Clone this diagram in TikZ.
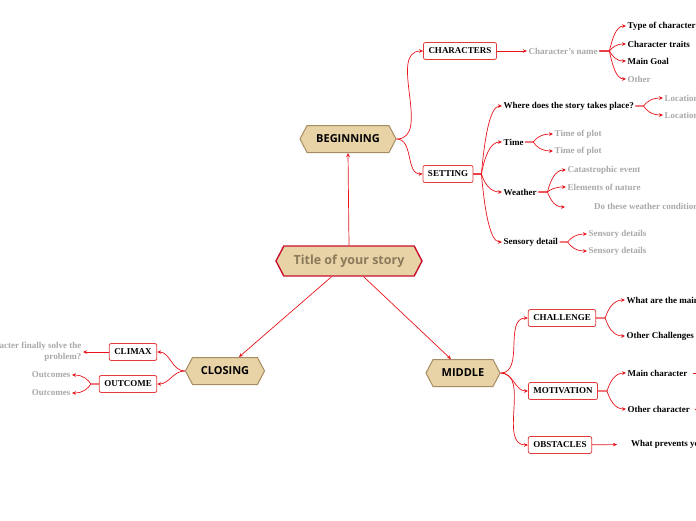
\documentclass[tikz,border=0pt]{standalone}
\usepackage{fontspec}
\setmainfont{Liberation Serif}
\newfontfamily\hexfont{Open Sans}
\usetikzlibrary{arrows.meta, positioning, shapes.symbols, calc}

\definecolor{linkred}{HTML}{E8141C}
\definecolor{boxred}{HTML}{E23B3B}
\definecolor{hexfill}{HTML}{E8D3A6}
\definecolor{hexline}{HTML}{A58C63}
\definecolor{titlered}{HTML}{C8102E}
\definecolor{titletext}{HTML}{8A7A5C}
\definecolor{softgray}{HTML}{A8A8A8}

\begin{document}
\begin{tikzpicture}[x=1pt, y=-1pt,
        hexa/.style={signal, signal to=east and west, signal pointer angle=125,
            draw=hexline, fill=hexfill, line width=1pt, minimum height=27pt,
            font=\hexfont\bfseries\fontsize{11}{13}\selectfont},
        topic/.style={hexa, draw=titlered, line width=1.4pt, text=titletext,
            minimum width=146pt, minimum height=30pt,
            font=\hexfont\bfseries\fontsize{12.5}{15}\selectfont},
        box/.style={rectangle, rounded corners=2pt, draw=boxred, fill=white,
            line width=0.8pt, minimum height=17pt, inner xsep=5pt,
            font=\bfseries\fontsize{9}{11}\selectfont},
        item/.style={anchor=west, inner sep=1.5pt, font=\bfseries\fontsize{9}{10.5}\selectfont},
        hint/.style={item, text=softgray},
        link/.style={draw=linkred, line width=0.7pt, -{Stealth[length=4pt, width=3.6pt]}},
        fork/.style={to path={-- ++(#1,0) coordinate (f)
            .. controls ([xshift=3pt]$(f)!0.5!(f |- \tikztotarget)$)
            and ($(f |- \tikztotarget)!0.4!(\tikztotarget)$) .. (\tikztotarget)}},
        lfork/.style={to path={-- ++(-#1,0) coordinate (f)
            .. controls ([xshift=-3pt]$(f)!0.5!(f |- \tikztotarget)$)
            and ($(f |- \tikztotarget)!0.4!(\tikztotarget)$) .. (\tikztotarget)}}
    ]
        \useasboundingbox (0,0) rectangle (696,520);
        \clip (0,0) rectangle (696,520);

        % main topics
        \node[topic] (title) at (349,261) {Title of your story};
        \node[hexa, minimum width=96pt] (begin) at (348,139) {BEGINNING};
        \node[hexa, minimum width=79pt] (closing) at (225,371) {CLOSING};
        \node[hexa, minimum width=74pt] (middle) at (463,373) {MIDDLE};

        \draw[link] (title.north) -- (begin.south);
        \draw[link] (title.222) -- (closing.45);
        \draw[link] (title.-47) -- (middle.131);

        % beginning
        \node[box] (chars) at (460,51) {CHARACTERS};
        \node[box] (setting) at (448,174) {SETTING};
        \node[hint, right=30pt of chars] (chname) {Character's name};
        \node[item] (ctype) at (626,26) {Type of character};
        \node[item] (traits) at (626,44) {Character traits};
        \node[item] (goal) at (626,61) {Main Goal};
        \node[hint] (other) at (626,79) {Other};

        \node[item] (where) at (502,106) {Where does the story takes place?};
        \node[hint] (loc1) at (663,98) {Location};
        \node[hint] (loc2) at (663,115) {Location};
        \node[item] (time) at (502,142) {Time};
        \node[hint] (plot1) at (553,134) {Time of plot};
        \node[hint] (plot2) at (553,151) {Time of plot};
        \node[item] (weather) at (502,192) {Weather};
        \node[hint] (event) at (566,170) {Catastrophic event};
        \node[hint] (nature) at (566,187) {Elements of nature};
        \node[hint, inner xsep=29pt] (cond) at (565,207) {Do these weather conditions affect the story?};
        \node[item] (sense) at (502,242) {Sensory detail};
        \node[hint] (sense1) at (587,234) {Sensory details};
        \node[hint] (sense2) at (587,251) {Sensory details};

        \draw[link] (begin.east) to[out=0, in=180] (chars.west);
        \draw[link] (begin.east) to[out=0, in=180] (setting.west);
        \draw[link] (chars) -- (chname);
        \foreach \c in {ctype,traits,goal,other}
            \draw[link] (chname.east) to[fork=10] (\c.west);
        \foreach \c in {where,time,weather,sense}
            \draw[link] (setting.east) to[fork=8] (\c.west);
        \foreach \c in {loc1,loc2}
            \draw[link] (where.east) to[fork=8] (\c.west);
        \foreach \c in {plot1,plot2}
            \draw[link] (time.east) to[fork=8] (\c.west);
        \foreach \c in {event,nature,cond}
            \draw[link] (weather.east) to[fork=9] (\c.west);
        \foreach \c in {sense1,sense2}
            \draw[link] (sense.east) to[fork=8] (\c.west);

        % closing
        \node[box] (climax) at (133,352) {CLIMAX};
        \node[box] (outcome) at (128,384) {OUTCOME};
        \node[hint, anchor=east, align=right] (solve) at (83,352)
            {Does the main character finally solve the\\problem?};
        \node[hint, anchor=east] (out1) at (72,375) {Outcomes};
        \node[hint, anchor=east] (out2) at (72,393) {Outcomes};

        \draw[link] (closing.west) to[out=180, in=0] (climax.east);
        \draw[link] (closing.west) to[out=180, in=0] (outcome.east);
        \draw[link] (climax) -- (solve);
        \foreach \c in {out1,out2}
            \draw[link] (outcome.west) to[lfork=8] (\c.east);

        % middle
        \node[box] (challenge) at (562,318) {CHALLENGE};
        \node[box] (motive) at (563,391) {MOTIVATION};
        \node[box] (obstacle) at (560,445) {OBSTACLES};
        \node[item] (mainobst) at (625,300) {What are the main obstacles?};
        \node[item] (otherch) at (625,336) {Other Challenges};
        \node[item] (mainchar) at (626,373) {Main character};
        \node[item] (otherchar) at (626,409) {Other character};
        \node[item, inner xsep=14pt] (prevent) at (617,444) {What prevents your character?};
        \coordinate (mainnext) at (730,373);
        \coordinate (othernext) at (730,409);

        \foreach \c in {challenge,motive,obstacle}
            \draw[link] (middle.east) to[out=0, in=180] (\c.west);
        \foreach \c in {mainobst,otherch}
            \draw[link] (challenge.east) to[fork=9] (\c.west);
        \foreach \c in {mainchar,otherchar}
            \draw[link] (motive.east) to[fork=9] (\c.west);
        \draw[link] (obstacle) -- (prevent);
        \draw[linkred, line width=0.7pt] (mainchar.east) ++(4,0) -- (mainnext);
        \draw[linkred, line width=0.7pt] (otherchar.east) ++(3,0) -- (othernext);
    \end{tikzpicture}
\end{document}
